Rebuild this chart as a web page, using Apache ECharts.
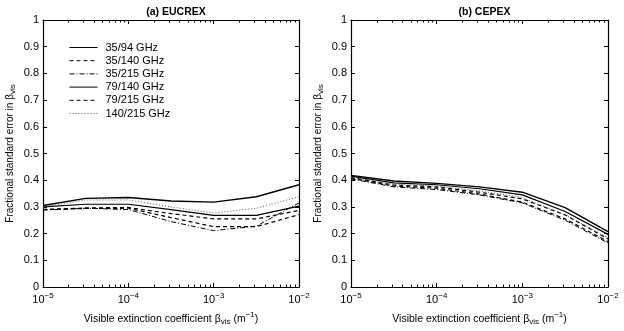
<!DOCTYPE html>
<html><head><meta charset="utf-8">
<script src="https://cdn.jsdelivr.net/npm/echarts@6/dist/echarts.min.js"></script>
<style>html,body{margin:0;padding:0;background:#fff}#c{width:624px;height:331px}</style>
</head><body><div id="c"></div>
<script>
// x positions (visible extinction coefficient, m^-1)
const xVals = [1e-5, 3.162e-5, 1e-4, 3.162e-4, 1e-3, 3.162e-3, 1e-2];
const seriesNames = ['35/94 GHz', '35/140 GHz', '35/215 GHz', '79/140 GHz', '79/215 GHz', '140/215 GHz'];
const panelTitles = ['(a) EUCREX', '(b) CEPEX'];
const majorTicks = [1e-5, 1e-4, 1e-3, 1e-2];
const minorTicks = [2e-5,3e-5,4e-5,5e-5,6e-5,7e-5,8e-5,9e-5,2e-4,3e-4,4e-4,5e-4,6e-4,7e-4,8e-4,9e-4,2e-3,3e-3,4e-3,5e-3,6e-3,7e-3,8e-3,9e-3];

// (a) EUCREX
const eucrex_35_94   = [0.305, 0.332, 0.335, 0.322, 0.318, 0.338, 0.383];
const eucrex_35_140  = [0.290, 0.296, 0.298, 0.275, 0.255, 0.255, 0.287];
const eucrex_35_215  = [0.288, 0.295, 0.290, 0.245, 0.211, 0.228, 0.315];
const eucrex_79_140  = [0.300, 0.310, 0.310, 0.290, 0.268, 0.268, 0.303];
const eucrex_79_215  = [0.290, 0.294, 0.295, 0.260, 0.226, 0.226, 0.271];
const eucrex_140_215 = [0.300, 0.326, 0.326, 0.300, 0.277, 0.295, 0.338];

// (b) CEPEX
const cepex_35_94   = [0.418, 0.397, 0.388, 0.375, 0.355, 0.297, 0.207];
const cepex_35_140  = [0.410, 0.382, 0.375, 0.355, 0.330, 0.270, 0.180];
const cepex_35_215  = [0.405, 0.375, 0.365, 0.345, 0.315, 0.250, 0.165];
const cepex_79_140  = [0.415, 0.390, 0.383, 0.368, 0.345, 0.283, 0.197];
const cepex_79_215  = [0.408, 0.378, 0.370, 0.348, 0.318, 0.255, 0.170];
const cepex_140_215 = [0.410, 0.385, 0.378, 0.360, 0.335, 0.270, 0.185];

const panels = [
  [eucrex_35_94, eucrex_35_140, eucrex_35_215, eucrex_79_140, eucrex_79_215, eucrex_140_215],
  [cepex_35_94, cepex_35_140, cepex_35_215, cepex_79_140, cepex_79_215, cepex_140_215]
];
const lineStyles = [
  {type: 'solid', width: 1.4, color: '#000'},
  {type: [4, 3], width: 1.2, color: '#000'},
  {type: [5, 2, 1, 2], width: 1, color: '#000'},
  {type: 'solid', width: 1.2, color: '#000'},
  {type: [4, 3], width: 1.2, color: '#000'},
  {type: [1, 2], width: 1, color: '#555'}
];

const FONT = 'Liberation Sans, Arial, sans-serif';
const grids = [
  {left: 43, right: 325, top: 20, bottom: 37},
  {left: 351, right: 16, top: 20, bottom: 37}
];
const xAxes = [], yAxes = [], series = [], titles = [];
const supStyle = {fontSize: 8, fontFamily: FONT, color: '#000', padding: [0, 0, 8, 0]};
const subStyle = {fontSize: 8, fontFamily: FONT, color: '#000', padding: [6, 0, 0, 0]};
grids.forEach((g, p) => {
  const base = {type: 'log', logBase: 10, min: 1e-5, max: 1e-2, gridIndex: p,
    splitLine: {show: false}, minorSplitLine: {show: false}};
  xAxes.push(Object.assign({}, base, {
    position: 'bottom',
    axisLine: {show: true, lineStyle: {color: '#000', width: 1.2}},
    axisTick: {show: true, inside: true, length: 4, lineStyle: {color: '#000'}, customValues: majorTicks},
    axisLabel: {show: true, margin: 5, customValues: majorTicks,
      formatter: v => '10{sup|\u2212' + Math.round(-Math.log10(v)) + '}',
      color: '#000', fontSize: 11, fontFamily: FONT, rich: {sup: supStyle}},
    name: 'Visible extinction coefficient \u03b2{sub|vis} (m{sup|\u22121})',
    nameLocation: 'middle', nameGap: 24,
    nameTextStyle: {color: '#000', fontSize: 10.5, fontFamily: FONT, rich: {sub: subStyle, sup: supStyle}}
  }));
  xAxes.push(Object.assign({}, base, {
    position: 'bottom', axisLine: {show: false},
    axisTick: {show: true, inside: true, length: 2.5, lineStyle: {color: '#000'}, customValues: minorTicks},
    axisLabel: {show: false}
  }));
  xAxes.push(Object.assign({}, base, {
    position: 'top', axisLine: {show: true, lineStyle: {color: '#000', width: 1.2}},
    axisTick: {show: true, inside: true, length: 4, lineStyle: {color: '#000'}, customValues: majorTicks},
    axisLabel: {show: false}
  }));
  xAxes.push(Object.assign({}, base, {
    position: 'top', axisLine: {show: false},
    axisTick: {show: true, inside: true, length: 2.5, lineStyle: {color: '#000'}, customValues: minorTicks},
    axisLabel: {show: false}
  }));
  const ybase = {type: 'value', min: 0, max: 1, interval: 0.1, gridIndex: p, splitLine: {show: false}};
  yAxes.push(Object.assign({}, ybase, {
    position: 'left',
    axisLine: {show: true, lineStyle: {color: '#000', width: 1.2}},
    axisTick: {show: true, inside: true, length: 4, lineStyle: {color: '#000'}},
    axisLabel: {color: '#000', fontSize: 11, fontFamily: FONT, margin: 4},
    name: 'Fractional standard error in \u03b2{sub|vis}',
    nameLocation: 'middle', nameGap: 26, nameRotate: 90,
    nameTextStyle: {color: '#000', fontSize: 10, fontFamily: FONT, rich: {sub: subStyle}}
  }));
  yAxes.push(Object.assign({}, ybase, {
    position: 'right',
    axisLine: {show: true, lineStyle: {color: '#000', width: 1.2}},
    axisTick: {show: true, inside: true, length: 4, lineStyle: {color: '#000'}},
    axisLabel: {show: false}
  }));
  panels[p].forEach((vals, i) => {
    series.push({
      type: 'line', name: seriesNames[i], xAxisIndex: p * 4, yAxisIndex: p * 2,
      data: xVals.map((x, k) => [x, vals[k]]),
      symbol: 'none', showSymbol: false, silent: true, animation: false,
      lineStyle: lineStyles[i], itemStyle: {color: lineStyles[i].color}, z: 3
    });
  });
  const cx = p === 0 ? (43 + 299) / 2 : (351 + 608) / 2;
  titles.push({text: panelTitles[p], left: cx, top: 2, textAlign: 'center',
    textStyle: {fontSize: 10.5, fontWeight: 'bold', fontFamily: FONT, color: '#000'}});
});

const chart = echarts.init(document.getElementById('c'), null, {renderer: 'canvas'});
chart.setOption({
  animation: false,
  backgroundColor: '#fff',
  title: titles,
  grid: grids,
  xAxis: xAxes,
  yAxis: yAxes,
  legend: {
    data: seriesNames, orient: 'vertical', left: 69, top: 42, padding: 0,
    itemWidth: 28, itemHeight: 11, itemGap: 2.2,
    itemStyle: {opacity: 0, borderWidth: 0},
    lineStyle: {width: 1},
    textStyle: {fontSize: 11, fontFamily: FONT, color: '#000', padding: [0, 0, 0, 3]},
    selectedMode: false
  },
  series: series
});
</script></body></html>
